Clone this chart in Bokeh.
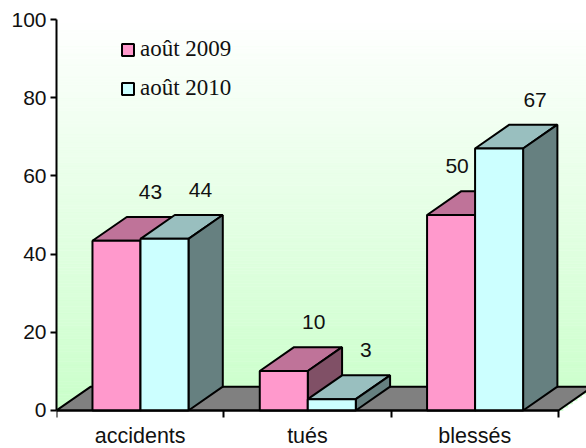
from bokeh.plotting import figure
from bokeh.models import ColumnDataSource, Legend, LegendItem, LinearAxis, FixedTicker, Range1d
from bokeh.core.properties import value
from bokeh.embed import file_html
from bokeh.resources import INLINE

categories = ["accidents", "tués", "blessés"]
series_names = ["août 2009", "août 2010"]
values_2009 = [43.4, 10.1, 50.0]
values_2010 = [43.9, 2.9, 67.0]
labels_2009 = ["43", "10", "50"]
labels_2010 = ["44", "3", "67"]
y_ticks = [0, 20, 40, 60, 80, 100]

PINK = ("#FF99CC", "#BF7399", "#805066")
CYAN = ("#CCFFFF", "#99BFBF", "#668080")
BAR_W = 0.287
BAR_START = 0.215
DX = 0.205
DY = 6.1
X_MAX = 3.168
Y_MIN = -9.72
label_dx_2009 = [58, 54, 30]
label_dx_2010 = [60, 58, 60]
LABEL_DY = 49

p = figure(width=586, height=448, output_backend="svg", toolbar_location=None,
           x_range=Range1d(0, X_MAX), y_range=Range1d(Y_MIN, 100),
           x_axis_type=None, y_axis_type=None,
           min_border_left=56, min_border_top=19, min_border_bottom=0, min_border_right=0)
p.grid.visible = False
p.outline_line_color = None
p.background_fill_color = "white"
p.border_fill_color = "white"

# back wall gradient, white to pale green
N = 120
xl, xr, yb, yt, cols = [], [], [], [], []
for i in range(N):
    lo = 100 * i / N
    hi = 100 * (i + 1) / N
    t = 1 - (lo + hi) / 200
    c = "#%02X%02X%02X" % (round(255 - 53 * t), 255, round(255 - 53 * t))
    xl.append(0)
    xr.append(min(X_MAX, 3 + DX * hi / DY))
    yb.append(lo); yt.append(hi); cols.append(c)
p.quad(left=xl, right=xr, bottom=yb, top=yt, fill_color=cols, line_color=cols, line_width=0.6)

# floor
p.patch([0, 3, 3 + DX, DX], [0, 0, DY, DY], fill_color="#808080", line_color="black", line_width=2)

def draw(vals, i_off, shades):
    left = [c + BAR_START + i_off * BAR_W for c in range(3)]
    right = [l + BAR_W for l in left]
    p.patches([[l, r, r + DX, l + DX] for l, r in zip(left, right)],
              [[v, v, v + DY, v + DY] for v in vals],
              fill_color=shades[1], line_color="black", line_width=2)
    p.patches([[r, r + DX, r + DX, r] for r in right],
              [[0, DY, v + DY, v] for v in vals],
              fill_color=shades[2], line_color="black", line_width=2)
    return p.quad(left=left, right=right, bottom=[0] * 3, top=vals,
                  fill_color=shades[0], line_color="black", line_width=2), left

r09, left09 = draw(values_2009, 0, PINK)
r10, left10 = draw(values_2010, 1, CYAN)

src = ColumnDataSource(dict(
    x=left09 + left10,
    y=values_2009 + values_2010,
    t=labels_2009 + labels_2010,
    dx=label_dx_2009 + label_dx_2010,
    dy=[-LABEL_DY] * 6,
))
p.text(x="x", y="y", text="t", x_offset="dx", y_offset="dy", source=src,
       text_align="center", text_baseline="middle", text_color="#111111",
       text_font=value("Liberation Sans"), text_font_size="21px")

yaxis = LinearAxis(ticker=FixedTicker(ticks=y_ticks), bounds=(0, 100))
yaxis.axis_line_width = 2
yaxis.axis_line_color = "black"
yaxis.major_tick_line_width = 2
yaxis.major_tick_in = 0
yaxis.major_tick_out = 6
yaxis.minor_tick_line_color = None
yaxis.major_label_text_font = "Liberation Sans"
yaxis.major_label_text_font_size = "21px"
yaxis.major_label_text_color = "#111111"
yaxis.major_label_standoff = 4
p.add_layout(yaxis, "left")

boundaries = list(range(len(categories) + 1))
centers = [c + 0.5 for c in range(3)]
xaxis = LinearAxis(ticker=FixedTicker(ticks=centers, minor_ticks=boundaries),
                   fixed_location=0, bounds=(0, 3))
xaxis.major_label_overrides = {c: n for c, n in zip(centers, categories)}
xaxis.axis_line_width = 2
xaxis.axis_line_color = "black"
xaxis.major_tick_line_color = None
xaxis.major_tick_in = 0
xaxis.major_tick_out = 0
xaxis.minor_tick_line_width = 2
xaxis.minor_tick_in = 0
xaxis.minor_tick_out = 7
xaxis.major_label_text_font = "Liberation Sans"
xaxis.major_label_text_font_size = "21.5px"
xaxis.major_label_text_color = "#111111"
xaxis.major_label_standoff = 7
p.add_layout(xaxis, "below")

legend = Legend(items=[LegendItem(label=series_names[0], renderers=[r09]),
                       LegendItem(label=series_names[1], renderers=[r10])],
                location=(64, 347), margin=0, padding=0, spacing=13,
                glyph_width=15, glyph_height=15, label_standoff=5, label_height=15,
                background_fill_alpha=0, border_line_color=None,
                label_text_font="Liberation Serif", label_text_font_size="23px",
                label_text_color="#111111")
p.add_layout(legend)

open("out.html", "w").write(file_html(p, INLINE))
